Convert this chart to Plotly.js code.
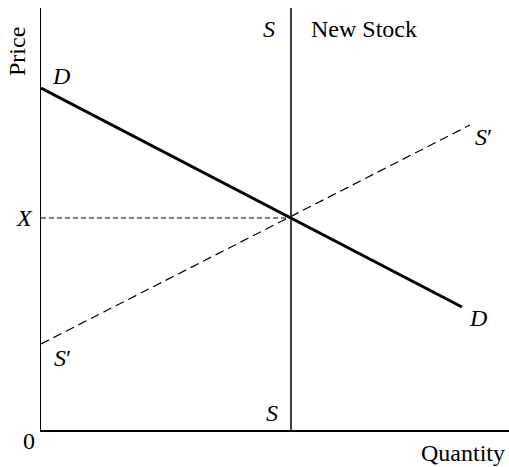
<!DOCTYPE html>
<html>
<head>
<meta charset="utf-8">
<script src="https://cdn.plot.ly/plotly-3.0.1.min.js"></script>
<style>html,body{margin:0;padding:0;background:#fff;}#chart{width:509px;height:467px;}</style>
</head>
<body>
<div id="chart"></div>
<script>
// Values (quantity, price) in chart units
const demandQ = [0, 421];
const demandP = [342, 123];
const supplyPrimeQ = [0, 429];
const supplyPrimeP = [86, 305];
const stockQ = [250, 250];
const stockP = [0, 422];
const priceXQ = [0, 250];
const priceXP = [212, 212];
const xRange = [0, 468];
const yRange = [0, 422];

const serif = "Liberation Serif, Times New Roman, serif";

const traces = [
  {x: demandQ, y: demandP, mode: 'lines', line: {color: '#000', width: 3}, hoverinfo: 'skip'},
  {x: supplyPrimeQ, y: supplyPrimeP, mode: 'lines', line: {color: '#000', width: 1.2, dash: '9px,5px'}, hoverinfo: 'skip'},
  {x: stockQ, y: stockP, mode: 'lines', line: {color: '#000', width: 1.5}, hoverinfo: 'skip'},
  {x: priceXQ, y: priceXP, mode: 'lines', line: {color: '#000', width: 1.2, dash: '5px,3px'}, hoverinfo: 'skip'}
];

function ann(text, x, y, opts) {
  return Object.assign({text: text,
    x: (x - xRange[0]) / (xRange[1] - xRange[0]),
    y: (y - yRange[0]) / (yRange[1] - yRange[0]),
    xref: 'paper', yref: 'paper', showarrow: false,
    xanchor: 'center', yanchor: 'middle', font: {family: serif, size: 24, color: '#000'}}, opts || {});
}

const layout = {
  width: 509, height: 467,
  margin: {l: 41, r: 0, t: 8, b: 37, pad: 0},
  paper_bgcolor: '#fff', plot_bgcolor: '#fff',
  showlegend: false,
  xaxis: {range: xRange, showgrid: false, zeroline: false, showticklabels: false, ticks: '',
          showline: true, linecolor: '#000', linewidth: 1.5, fixedrange: true},
  yaxis: {range: yRange, showgrid: false, zeroline: false, showticklabels: false, ticks: '',
          showline: true, linecolor: '#000', linewidth: 1.5, fixedrange: true},
  annotations: [
    ann('Price', -24, 378, {textangle: -90}),
    ann('0', -12, -11),
    ann('Quantity', 422, -23),
    ann('<i>X</i>', -17, 212),
    ann('<i>D</i>', 20, 354),
    ann('<i>D</i>', 437, 112),
    ann('<i>S</i>′', 442, 293),
    ann('<i>S</i>′', 21, 72),
    ann('<i>S</i>', 231, 17),
    ann('<i>S</i>', 228, 401),
    ann('New Stock', 268, 401, {xanchor: 'left'})
  ]
};

Plotly.newPlot('chart', traces, layout, {staticPlot: true, displayModeBar: false});
</script>
</body>
</html>
